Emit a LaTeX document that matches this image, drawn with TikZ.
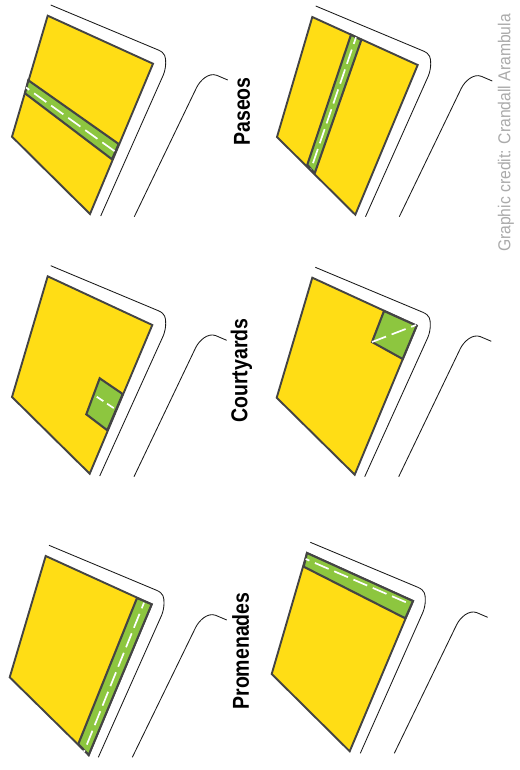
\documentclass[tikz,border=0pt]{standalone}
\usepackage{graphicx}
\usepackage{fontspec}
\setmainfont{Liberation Sans}
\definecolor{lot}{HTML}{FFDD15}
\definecolor{park}{HTML}{8DC63F}
\definecolor{edge}{HTML}{444444}
\definecolor{credit}{HTML}{AAAAAA}
\tikzset{
  x=1pt,y=-1pt,
  lotshape/.style={fill=lot,draw=edge,line width=1.9pt,line join=miter},
  parkshape/.style={fill=park,draw=edge,line width=2.1pt,line join=miter},
  walk/.style={draw=white,line width=1.7pt,dash pattern=on 15pt off 6pt},
  road/.style={draw=black!90,line width=0.85pt},
  title/.style={rotate=90,font=\bfseries\fontsize{19.5}{22}\selectfont,inner sep=0pt,text=black},
}
\newcommand{\roadpair}[8]{%
  \draw[road] (#1,#2) -- ++(107.6,45) .. controls +(7,3) and +(0,-6) .. ++(7.4,13) .. controls +(0,4) and +(1.4,-3.5) .. ++(-2.4,12) -- (#3,#4);
  \draw[road] (#5,#6) -- ++(-11,-4.7) .. controls +(-8,-3) and +(3.5,-7) .. ++(-20,12) -- (#7,#8);
}
\begin{document}
\begin{tikzpicture}
\useasboundingbox (0,0) rectangle (519,770);
% Paseos left
\roadpair{50.7}{5}{100.7}{216}{227.7}{80}{134.3}{216.7}
\draw[lotshape] (47.7,15.7) -- (153,63.7) -- (90,214) -- (12,136.7) -- cycle;
\draw[parkshape] (28.3,80.3) -- (118.7,144) -- (112,159.3) -- (25,93.3) -- cycle;
\draw[walk,dash phase=11pt] (26,87.5) -- (115.3,151.7);
% Paseos right
\roadpair{315.7}{6}{365.5}{216.7}{492.3}{81}{399.3}{216.7}
\draw[lotshape] (312.3,17) -- (417.7,65) -- (355.3,214.7) -- (277,137) -- cycle;
\draw[parkshape] (351,34.7) -- (361.3,40) -- (314.7,173.3) -- (307.3,164.7) -- cycle;
\draw[walk,dash phase=8pt] (356,37.3) -- (311,169);
% Courtyards left
\roadpair{50.7}{265.7}{99.7}{476}{226.7}{340.3}{134}{476.7}
\draw[lotshape] (47.7,276.3) -- (152.3,325) -- (89.7,473.7) -- (12,397) -- cycle;
\draw[parkshape] (99.7,378.3) -- (122.7,394) -- (107.3,430.3) -- (86.3,414.3) -- cycle;
\draw[draw=white,line width=1.7pt,dash pattern=on 8pt off 4.5pt] (96.7,396.7) -- (114,408.3);
% Courtyards right
\roadpair{315.3}{267.3}{364.7}{476.7}{491.3}{341.3}{398.7}{476.7}
\draw[lotshape] (312.3,277.7) -- (416.7,325.7) -- (354.7,474.7) -- (276.7,397.7) -- cycle;
\draw[parkshape] (384,311) -- (416.7,325.7) -- (402.7,359) -- (372,342) -- cycle;
\draw[walk] (372,342) -- (416,325);
% Promenades left
\roadpair{49}{545.3}{98.3}{757.3}{226.7}{620}{132.3}{757.3}
\draw[lotshape] (45.7,556) -- (151.7,604.3) -- (88.7,755) -- (9.7,677.3) -- cycle;
\draw[parkshape] (137,598) -- (151.7,604.3) -- (88.7,755) -- (78.3,744) -- cycle;
\draw[walk,dash phase=9pt] (144,602.7) -- (84,751.7);
% Promenades right
\roadpair{310.3}{542.3}{360.3}{753.3}{487.7}{617.3}{394.3}{753.3}
\draw[lotshape] (307,553) -- (413,601) -- (349.7,751.3) -- (271.7,674) -- cycle;
\draw[parkshape] (307,553) -- (413,601) -- (405.3,618.3) -- (303.7,566.7) -- cycle;
\draw[walk,dash phase=11pt] (305.7,559) -- (410.7,604.3);
% Labels
\node[title] (paseos) at (242,111.5) {\scalebox{1}[1.18]{Paseos}};
\node[title] (courtyards) at (241.5,370.5) {\scalebox{1}[1.18]{Courtyards}};
\node[title] (promenades) at (240.7,651) {\scalebox{1}[1.18]{Promenades}};
\node[rotate=90,inner sep=0pt,text=credit,font=\fontsize{15.7}{17}\selectfont] (credit) at (506,133) {\scalebox{1}[1.1]{Graphic credit: Crandall Arambula}};
\end{tikzpicture}
\end{document}
